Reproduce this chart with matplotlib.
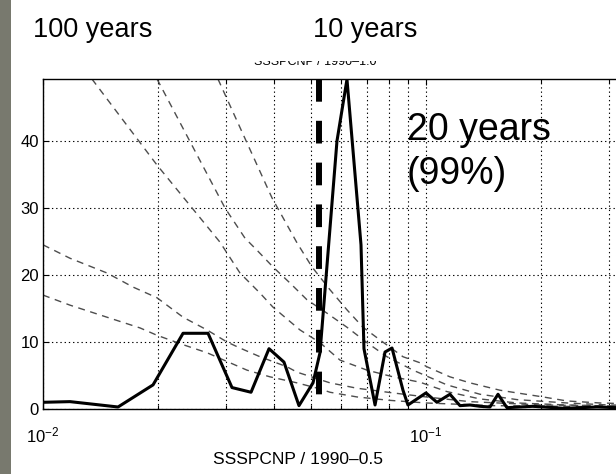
import matplotlib
matplotlib.use("Agg")
import matplotlib.pyplot as plt
from matplotlib.patches import Rectangle

plt.rcParams['font.family'] = ['Liberation Sans', 'DejaVu Sans']
plt.rcParams['mathtext.fontset'] = 'custom'
plt.rcParams['mathtext.rm'] = 'Liberation Sans'
plt.rcParams['mathtext.it'] = 'Liberation Sans'
plt.rcParams['mathtext.bf'] = 'Liberation Sans'

# spectrum (frequency in cycles/yr, power)
freq = [0.0100, 0.01176, 0.01570, 0.01938, 0.02321, 0.02697, 0.03115, 0.03493,
        0.03892, 0.04258, 0.04660, 0.05070, 0.05288, 0.05856, 0.06219, 0.06766,
        0.06888, 0.07362, 0.07817, 0.08153, 0.08709, 0.08974, 0.1000, 0.1068,
        0.1155, 0.1227, 0.1303, 0.1384, 0.1469, 0.1542, 0.1627, 0.19, 0.23,
        0.28, 0.35, 0.5]
power = [1.0, 1.1, 0.3, 3.6, 11.3, 11.3, 3.2, 2.5,
         9.0, 7.0, 0.5, 3.9, 8.4, 40.0, 49.2, 24.5,
         9.0, 0.6, 8.5, 9.1, 2.8, 0.6, 2.4, 1.0,
         2.2, 0.5, 0.6, 0.4, 0.3, 2.2, 0.2, 0.4, 0.1,
         0.3, 0.1, 0.1]

# red noise / confidence curves
conf_a_f = [0.01342, 0.01985, 0.02898, 0.03268, 0.03686, 0.03986, 0.04688, 0.05288,
            0.05963, 0.07015, 0.08202, 0.09645, 0.1134, 0.1384, 0.1729, 0.2334, 0.3, 0.5]
conf_a_p = [49.25, 36.4, 24.9, 20.3, 17.3, 15.2, 11.8, 9.9,
            7.3, 5.8, 4.8, 4.0, 2.6, 1.5, 0.9, 0.6, 0.45, 0.3]
conf_b_f = [0.01985, 0.02987, 0.03368, 0.03620, 0.03986, 0.04415, 0.04890, 0.05515,
            0.06219, 0.07015, 0.07911, 0.09249, 0.1134, 0.1384, 0.1729, 0.2334, 0.3, 0.5]
conf_b_p = [49.25, 30.0, 25.5, 23.7, 21.2, 18.8, 16.3, 14.3,
            12.2, 9.9, 7.8, 5.8, 3.6, 2.2, 1.4, 0.9, 0.6, 0.4]
conf_c_f = [0.02863, 0.03963, 0.04605, 0.05039, 0.05615, 0.06219, 0.06847, 0.07587,
            0.08709, 0.09645, 0.1006, 0.1155, 0.1303, 0.1561, 0.1729, 0.2021, 0.2334,
            0.2847, 0.5]
conf_c_p = [49.25, 31.5, 24.8, 21.2, 17.8, 14.8, 12.2, 10.3,
            7.8, 6.9, 6.3, 4.8, 3.9, 2.8, 2.4, 1.8, 1.2,
            0.9, 0.5]
conf_d_f = [0.0100, 0.01176, 0.01469, 0.01718, 0.01985, 0.02321, 0.02680, 0.03023,
            0.03268, 0.03686, 0.04336, 0.04605, 0.05615, 0.06603, 0.08202, 0.1, 0.13,
            0.2, 0.5]
conf_d_p = [24.5, 22.5, 20.3, 18.2, 16.6, 13.7, 11.8, 10.0,
            9.1, 7.8, 6.3, 5.5, 3.9, 3.1, 2.4, 1.8, 1.1,
            0.6, 0.3]
conf_e_f = [0.0100, 0.01176, 0.01469, 0.01792, 0.01985, 0.02321, 0.02680, 0.03078,
            0.03409, 0.03915, 0.04605, 0.05288, 0.05615, 0.06603, 0.08, 0.1, 0.15, 0.5]
conf_e_p = [17.0, 15.5, 13.7, 12.1, 11.0, 9.6, 8.4, 6.9,
            5.8, 4.8, 3.9, 3.0, 2.5, 1.8, 1.3, 0.9, 0.5, 0.2]
conf_curves = [(conf_a_f, conf_a_p), (conf_b_f, conf_b_p), (conf_c_f, conf_c_p),
               (conf_d_f, conf_d_p), (conf_e_f, conf_e_p)]

peak_freq = 0.0526
ymax = 49.25

fig = plt.figure(figsize=(6.16, 4.74), dpi=100)

ax = fig.add_axes([43 / 616, 65 / 474, (694 - 43) / 616, 330 / 474])
ax.set_xscale('log')
ax.set_xlim(0.01, 0.501)
ax.set_ylim(0, ymax)

for cf, cp in conf_curves:
    ax.plot(cf, cp, color='#4d4d4d', lw=1.0, ls=(0, (5, 4)), zorder=2)

ax.plot([peak_freq, peak_freq], [ymax, 0], color='k', lw=4.3,
        ls=(0, (3.8, 3.2)), dash_capstyle='butt', zorder=3)
ax.plot(freq, power, color='k', lw=2.2, zorder=4)

ax.set_yticks([0, 10, 20, 30, 40])
ax.set_xticks([0.01, 0.1])
ax.set_xticklabels([r'$10^{-2}$', r'$10^{-1}$'])
ax.grid(True, which='both', axis='x', color='k', lw=0.8, ls=(0, (1.2, 2.6)))
ax.grid(True, which='major', axis='y', color='k', lw=0.8, ls=(0, (1.2, 2.6)))
ax.tick_params(which='both', direction='in', top=True, right=False)
ax.tick_params(which='major', length=4.5, width=0.8)
ax.tick_params(which='minor', length=3, width=0.8)
ax.tick_params(axis='y', labelsize=12, pad=3)
ax.tick_params(axis='x', labelsize=12, pad=12)
ax.spines['right'].set_visible(False)
for s in ['left', 'bottom', 'top']:
    ax.spines[s].set_linewidth(1.0)

ax.text(0.0892, 40.1, '20 years', fontsize=27, ha='left', va='baseline', zorder=5)
ax.text(0.0892, 33.6, '(99%)', fontsize=27, ha='left', va='baseline', zorder=5)

fig.text(298 / 616, 1 - 460 / 474, 'SSSPCNP / 1990–0.5', fontsize=12.5,
         ha='center', va='center')
fig.text(315 / 616, 1 - 62 / 474, 'SSSPCNP / 1990–1.0', fontsize=9,
         ha='center', va='center', zorder=1)
fig.patches.append(Rectangle((0, 1 - 61 / 474), 1, 61 / 474, transform=fig.transFigure,
                             facecolor='white', edgecolor='none', zorder=2))
fig.patches.append(Rectangle((0, 0), 11 / 616, 1, transform=fig.transFigure,
                             facecolor='#78796e', edgecolor='none', zorder=4))
fig.text(33 / 616, 1 - 30 / 474, '100 years', fontsize=19.5,
         ha='left', va='center', zorder=3)
fig.text(313 / 616, 1 - 30 / 474, '10 years', fontsize=19.5,
         ha='left', va='center', zorder=3)

fig.savefig('out.png', dpi=100)
